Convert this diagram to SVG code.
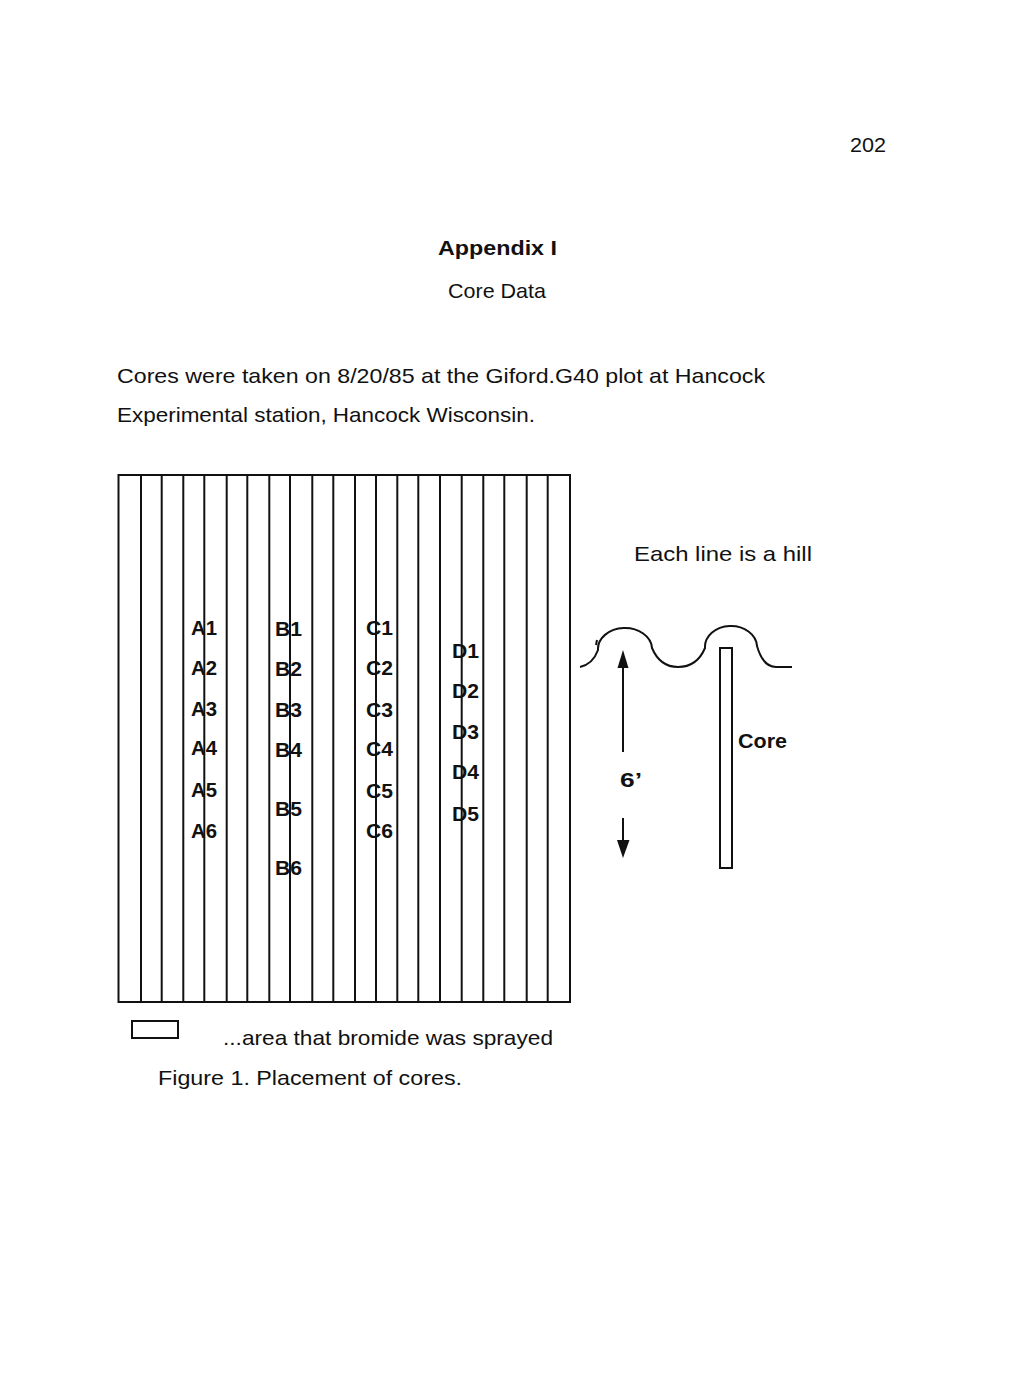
<svg xmlns="http://www.w3.org/2000/svg" width="1010" height="1380" viewBox="0 0 1010 1380">
<style>
.t{font-family:"Liberation Sans","DejaVu Sans",sans-serif;fill:#111;font-size:21px}
.b{font-weight:bold}
.lbl{font-family:"Liberation Sans","DejaVu Sans",sans-serif;font-weight:bold;font-size:20px;fill:#111}
.ln{stroke:#111;stroke-width:2;fill:none}
</style>
<rect width="1010" height="1380" fill="#fff"/>
<g id="header">
<text class="t" x="850" y="152" textLength="36" lengthAdjust="spacingAndGlyphs">202</text>
<text class="t b" x="438" y="255" textLength="119" lengthAdjust="spacingAndGlyphs">Appendix I</text>
<text class="t" x="448" y="298" textLength="98" lengthAdjust="spacingAndGlyphs">Core Data</text>
<text class="t" x="117" y="383" font-size="22" textLength="648" lengthAdjust="spacingAndGlyphs">Cores were taken on 8/20/85 at the Giford.G40 plot at Hancock</text>
<text class="t" x="117" y="422" font-size="22" textLength="418" lengthAdjust="spacingAndGlyphs">Experimental station, Hancock Wisconsin.</text>
</g>
<g id="labels">
<text class="lbl" x="191" y="635" textLength="26" lengthAdjust="spacingAndGlyphs">A1</text>
<text class="lbl" x="191" y="675" textLength="26" lengthAdjust="spacingAndGlyphs">A2</text>
<text class="lbl" x="191" y="716" textLength="26" lengthAdjust="spacingAndGlyphs">A3</text>
<text class="lbl" x="191" y="755" textLength="26" lengthAdjust="spacingAndGlyphs">A4</text>
<text class="lbl" x="191" y="797" textLength="26" lengthAdjust="spacingAndGlyphs">A5</text>
<text class="lbl" x="191" y="838" textLength="26" lengthAdjust="spacingAndGlyphs">A6</text>
<text class="lbl" x="275" y="636" textLength="27" lengthAdjust="spacingAndGlyphs">B1</text>
<text class="lbl" x="275" y="676" textLength="27" lengthAdjust="spacingAndGlyphs">B2</text>
<text class="lbl" x="275" y="717" textLength="27" lengthAdjust="spacingAndGlyphs">B3</text>
<text class="lbl" x="275" y="757" textLength="27" lengthAdjust="spacingAndGlyphs">B4</text>
<text class="lbl" x="275" y="816" textLength="27" lengthAdjust="spacingAndGlyphs">B5</text>
<text class="lbl" x="275" y="875" textLength="27" lengthAdjust="spacingAndGlyphs">B6</text>
<text class="lbl" x="366" y="635" textLength="27" lengthAdjust="spacingAndGlyphs">C1</text>
<text class="lbl" x="366" y="675" textLength="27" lengthAdjust="spacingAndGlyphs">C2</text>
<text class="lbl" x="366" y="717" textLength="27" lengthAdjust="spacingAndGlyphs">C3</text>
<text class="lbl" x="366" y="756" textLength="27" lengthAdjust="spacingAndGlyphs">C4</text>
<text class="lbl" x="366" y="798" textLength="27" lengthAdjust="spacingAndGlyphs">C5</text>
<text class="lbl" x="366" y="838" textLength="27" lengthAdjust="spacingAndGlyphs">C6</text>
<text class="lbl" x="452" y="658" textLength="27" lengthAdjust="spacingAndGlyphs">D1</text>
<text class="lbl" x="452" y="698" textLength="27" lengthAdjust="spacingAndGlyphs">D2</text>
<text class="lbl" x="452" y="739" textLength="27" lengthAdjust="spacingAndGlyphs">D3</text>
<text class="lbl" x="452" y="779" textLength="27" lengthAdjust="spacingAndGlyphs">D4</text>
<text class="lbl" x="452" y="821" textLength="27" lengthAdjust="spacingAndGlyphs">D5</text>
</g>
<g id="plot">
<rect class="ln" x="118.5" y="475" width="451.5" height="527"/>
<path class="ln" d="M141,475V1002M161.7,475V1002M183.3,475V1002M204.3,475V1002M226.7,475V1002M247.3,475V1002M269.3,475V1002M290,475V1002M312.3,475V1002M333.3,475V1002M355,475V1002M376,475V1002M397.3,475V1002M418.3,475V1002M440,475V1002M461.7,475V1002M483.3,475V1002M504.3,475V1002M526.7,475V1002M547.7,475V1002"/>
</g>
<g id="hill">
<text class="t" x="634" y="561" textLength="178" lengthAdjust="spacingAndGlyphs">Each line is a hill</text>
<path class="ln" d="M580,667 Q593,664 598,650 A27 21 0 0 1 652,648 Q660,667 678,667 Q697,667 705,648 A26 21 0 0 1 757,646 Q763,667 776,667 L792,667"/>
<path class="ln" d="M597,640 L596,645" stroke-width="1.5"/>
</g>
<g id="core">
<rect class="ln" x="720" y="648" width="12" height="220" fill="#fff"/>
<text class="t b" x="738" y="748" font-size="19" textLength="49" lengthAdjust="spacingAndGlyphs">Core</text>
</g>
<g id="connectors">
<path class="ln" d="M623,664V752"/>
<polygon points="623,650 617.5,668 628.5,668" fill="#111"/>
<path class="ln" d="M623,818V844" stroke-width="1.5"/>
<polygon points="617,840 629.5,840 623,858" fill="#111"/>
<text class="t b" x="620" y="787" font-size="19" textLength="22" lengthAdjust="spacingAndGlyphs">6’</text>
</g>
<g id="legend">
<rect class="ln" x="132" y="1021" width="46" height="17"/>
<text class="t" x="223" y="1045" textLength="330" lengthAdjust="spacingAndGlyphs">...area that bromide was sprayed</text>
<text class="t" x="158" y="1085" textLength="304" lengthAdjust="spacingAndGlyphs">Figure 1. Placement of cores.</text>
</g>
</svg>
